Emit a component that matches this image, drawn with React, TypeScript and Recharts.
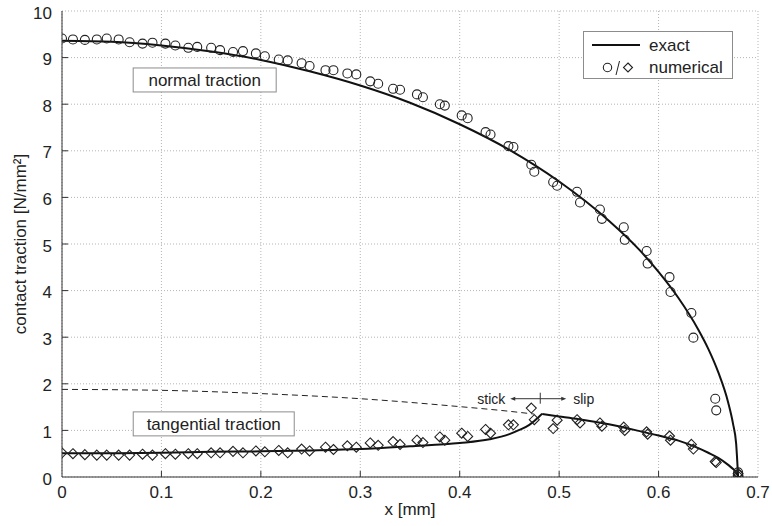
import React from "react";
import { CartesianGrid, ComposedChart, Label, Line, ReferenceDot, Scatter, XAxis, YAxis } from "recharts";

const FONT = '"Liberation Sans", Arial, Helvetica, sans-serif';
const INK = "#222";

const xTicks = [0, 0.1, 0.2, 0.3, 0.4, 0.5, 0.6, 0.7];
const yTicks = [0, 1, 2, 3, 4, 5, 6, 7, 8, 9, 10];

// numerical results (node positions shared by both tractions)
const numX = [
  0, 0.011, 0.023, 0.035, 0.045, 0.057, 0.068, 0.081, 0.091, 0.104, 0.114, 0.127, 0.136, 0.15, 0.159,
  0.172, 0.182, 0.195, 0.204, 0.218, 0.227, 0.241, 0.249, 0.265, 0.273, 0.287, 0.296, 0.31, 0.318,
  0.333, 0.34, 0.357, 0.363, 0.38, 0.385, 0.402, 0.408, 0.426, 0.431, 0.449, 0.454, 0.472, 0.475,
  0.494, 0.498, 0.518, 0.521, 0.541, 0.543, 0.565, 0.566, 0.588, 0.589, 0.611, 0.612, 0.633, 0.635,
  0.657, 0.658, 0.68, 0.68,
];
const normalNum = [
  9.41, 9.39, 9.38, 9.39, 9.41, 9.39, 9.33, 9.3, 9.32, 9.3, 9.26, 9.21, 9.23, 9.21, 9.16,
  9.12, 9.14, 9.09, 9.03, 8.96, 8.94, 8.88, 8.82, 8.73, 8.73, 8.66, 8.64, 8.49, 8.44,
  8.33, 8.31, 8.21, 8.15, 8.0, 7.97, 7.76, 7.7, 7.4, 7.35, 7.1, 7.08, 6.7, 6.55,
  6.33, 6.25, 6.12, 5.89, 5.74, 5.54, 5.36, 5.09, 4.85, 4.58, 4.29, 3.97, 3.52, 2.99,
  1.68, 1.43, 0.1, 0.05,
];
const tangentialNum = [
  0.52, 0.5, 0.48, 0.47, 0.47, 0.47, 0.47, 0.49, 0.47, 0.5, 0.49, 0.5, 0.5, 0.52, 0.52,
  0.55, 0.52, 0.56, 0.54, 0.57, 0.52, 0.6, 0.56, 0.64, 0.59, 0.67, 0.64, 0.73, 0.68,
  0.76, 0.7, 0.79, 0.74, 0.86, 0.79, 0.94, 0.87, 1.02, 0.94, 1.12, 1.12, 1.48, 1.23,
  1.04, 1.22, 1.23, 1.16, 1.16, 1.09, 1.07, 1.0, 0.97, 0.92, 0.88, 0.79, 0.7, 0.6,
  0.33, 0.31, 0.07, 0.02,
];

// exact solutions
const exactNormalX = [0, 0.05, 0.1, 0.15, 0.2, 0.25, 0.3, 0.35, 0.4, 0.45, 0.5, 0.55, 0.58, 0.6, 0.62, 0.64, 0.65, 0.66, 0.67, 0.675, 0.678, 0.68];
const exactNormal = [9.36, 9.34, 9.26, 9.13, 8.95, 8.7, 8.4, 8.03, 7.57, 7.02, 6.34, 5.5, 4.89, 4.4, 3.84, 3.16, 2.75, 2.25, 1.6, 1.13, 0.72, 0];

const stickX = [0, 0.05, 0.1, 0.15, 0.2, 0.25, 0.3, 0.35, 0.4, 0.43, 0.45, 0.46, 0.47, 0.475, 0.48, 0.483];
const stickY = [0.51, 0.51, 0.52, 0.54, 0.55, 0.57, 0.6, 0.66, 0.73, 0.81, 0.92, 1.01, 1.12, 1.2, 1.3, 1.36];

const slipX = [0.483, 0.5, 0.52, 0.55, 0.58, 0.6, 0.62, 0.64, 0.65, 0.66, 0.67, 0.675, 0.678, 0.68];
const slipY = [1.35, 1.3, 1.24, 1.13, 0.99, 0.89, 0.78, 0.62, 0.52, 0.41, 0.26, 0.17, 0.1, 0];

const limitX = [0, 0.1, 0.2, 0.3, 0.4, 0.45, 0.475];
const limitY = [1.88, 1.86, 1.79, 1.68, 1.51, 1.41, 1.35];

const pts = (xs: number[], ys: number[]) => xs.map((x, i) => ({ x, y: ys[i] }));

const normalPts = pts(numX, normalNum);
const tangPts = pts(numX, tangentialNum);
const exactNormalPts = pts(exactNormalX, exactNormal);
const stickPts = pts(stickX, stickY);
const slipPts = pts(slipX, slipY);
const limitPts = pts(limitX, limitY);

const BottomTick = (p: any) => {
  const v = p.payload.value;
  return (
    <g>
      {v > 0 && v < 0.7 && <line x1={p.x} x2={p.x} y1={p.y - 9} y2={p.y - 15} stroke="#333" />}
      <text x={p.x} y={p.y} dy="0.71em" textAnchor="middle" fontSize={17} fill={INK} fontFamily={FONT}>
        {String(v)}
      </text>
    </g>
  );
};

const LeftTick = (p: any) => {
  const v = p.payload.value;
  return (
    <g>
      {v > 0 && v < 10 && <line x1={p.x + 10} x2={p.x + 16} y1={p.y} y2={p.y} stroke="#333" />}
      <text x={p.x} y={p.y} dy="0.45em" textAnchor="end" fontSize={17} fill={INK} fontFamily={FONT}>
        {String(v)}
      </text>
    </g>
  );
};

const TopTick = (p: any) => {
  const v = p.payload.value;
  if (v <= 0 || v >= 0.7) return <g />;
  return <line x1={p.x} x2={p.x} y1={p.y + 8} y2={p.y + 14} stroke="#333" />;
};

const RightTick = (p: any) => {
  const v = p.payload.value;
  if (v <= 0 || v >= 10) return <g />;
  return <line x1={p.x - 8} x2={p.x - 14} y1={p.y} y2={p.y} stroke="#333" />;
};

const circleShape = (p: any) => <circle cx={p.cx} cy={p.cy} r={4.5} fill="none" stroke={INK} strokeWidth={1.1} />;
const diamondShape = (p: any) => (
  <polygon
    points={`${p.cx},${p.cy - 5} ${p.cx + 5},${p.cy} ${p.cx},${p.cy + 5} ${p.cx - 5},${p.cy}`}
    fill="none"
    stroke={INK}
    strokeWidth={1.1}
  />
);

const textBox = (label: string, w: number) => (p: any) => (
  <g>
    <rect x={p.cx - w / 2} y={p.cy - 12} width={w} height={24} fill="#fff" stroke="#8c8c8c" />
    <text x={p.cx} y={p.cy} dy="0.36em" textAnchor="middle" fontSize={17} fill={INK} fontFamily={FONT}>
      {label}
    </text>
  </g>
);

const stickSlip = (p: any) => {
  const { cx, cy } = p;
  return (
    <g stroke="#333" fill="#333">
      <text x={cx - 35} y={cy} dy="0.35em" textAnchor="end" fontSize={14} stroke="none" fill={INK} fontFamily={FONT}>
        stick
      </text>
      <line x1={cx - 27} x2={cx} y1={cy} y2={cy} />
      <polygon points={`${cx - 30},${cy} ${cx - 25},${cy - 2} ${cx - 25},${cy + 2}`} stroke="none" />
      <line x1={cx} x2={cx} y1={cy - 6} y2={cy + 5} />
      <line x1={cx} x2={cx + 23} y1={cy} y2={cy} />
      <polygon points={`${cx + 26},${cy} ${cx + 21},${cy - 2} ${cx + 21},${cy + 2}`} stroke="none" />
      <text x={cx + 33} y={cy} dy="0.35em" textAnchor="start" fontSize={14} stroke="none" fill={INK} fontFamily={FONT}>
        slip
      </text>
    </g>
  );
};

const YLabel = (p: any) => {
  const vb = p.viewBox;
  const x = vb.x + 20;
  const y = vb.y + vb.height / 2;
  return (
    <text x={x} y={y} dy="0.35em" textAnchor="middle" transform={`rotate(-90, ${x}, ${y})`} fontSize={17} fill={INK} fontFamily={FONT}>
      contact traction [N/mm²]
    </text>
  );
};

const XLabel = (p: any) => {
  const vb = p.viewBox;
  return (
    <text x={vb.x + vb.width / 2} y={vb.y + 38} textAnchor="middle" fontSize={17} fill={INK} fontFamily={FONT}>
      x [mm]
    </text>
  );
};

function LegendBox() {
  return (
    <div
      style={{
        position: "absolute",
        left: 583,
        top: 31,
        width: 150,
        height: 48,
        boxSizing: "border-box",
        border: "1px solid #8c8c8c",
        background: "#fff",
      }}
    >
      <svg width={148} height={46} style={{ position: "absolute", left: 0, top: 0 }}>
        <line x1={8} x2={56} y1={13} y2={13} stroke="#111" strokeWidth={2} />
        <text x={65} y={19} fontSize={17} fill={INK} fontFamily={FONT}>exact</text>
        <circle cx={23.5} cy={35.5} r={4.2} fill="none" stroke={INK} strokeWidth={1.1} />
        <line x1={32} x2={35.5} y1={43} y2={29} stroke={INK} strokeWidth={1} />
        <polygon points="44,31 48.5,35.5 44,40 39.5,35.5" fill="none" stroke={INK} strokeWidth={1.1} />
        <text x={65} y={41} fontSize={17} fill={INK} fontFamily={FONT}>numerical</text>
      </svg>
    </div>
  );
}

export default function App() {
  return (
    <div style={{ position: "absolute", left: 0, top: 0, width: 772, height: 526, background: "#fff" }}>
      <ComposedChart width={772} height={526} margin={{ top: 11, right: 14, bottom: 0, left: 0 }}>
        <CartesianGrid stroke="#b5b5b5" strokeDasharray="1 2" />
        <XAxis
          dataKey="x"
          type="number"
          domain={[0, 0.7]}
          ticks={xTicks}
          height={49}
          tickSize={6}
          tickMargin={3}
          tickLine={false}
          tick={BottomTick}
          axisLine={{ stroke: "#333" }}
          allowDataOverflow
        >
          <Label content={XLabel} />
        </XAxis>
        <XAxis
          xAxisId="top"
          orientation="top"
          dataKey="x"
          type="number"
          domain={[0, 0.7]}
          ticks={xTicks}
          height={0}
          tickSize={6}
          tickMargin={2}
          tickLine={false}
          tick={TopTick}
          axisLine={{ stroke: "#333" }}
          allowDataOverflow
        />
        <YAxis
          dataKey="y"
          type="number"
          domain={[0, 10]}
          ticks={yTicks}
          width={62}
          tickSize={6}
          tickMargin={4}
          tickLine={false}
          tick={LeftTick}
          axisLine={{ stroke: "#333" }}
          allowDataOverflow
        >
          <Label content={YLabel} />
        </YAxis>
        <YAxis
          yAxisId="right"
          orientation="right"
          dataKey="y"
          type="number"
          domain={[0, 10]}
          ticks={yTicks}
          width={0}
          tickSize={6}
          tickMargin={2}
          tickLine={false}
          tick={RightTick}
          axisLine={{ stroke: "#333" }}
          allowDataOverflow
        />
        <Line data={limitPts} dataKey="y" type="monotone" stroke="#222" strokeWidth={1} strokeDasharray="6 4" dot={false} isAnimationActive={false} />
        <Line data={exactNormalPts} dataKey="y" type="monotone" stroke="#111" strokeWidth={2} dot={false} isAnimationActive={false} />
        <Line data={stickPts} dataKey="y" type="monotone" stroke="#111" strokeWidth={2} dot={false} isAnimationActive={false} />
        <Line data={slipPts} dataKey="y" type="monotone" stroke="#111" strokeWidth={2} dot={false} isAnimationActive={false} />
        <Scatter data={normalPts} shape={circleShape} isAnimationActive={false} />
        <Scatter data={tangPts} shape={diamondShape} isAnimationActive={false} />
        <ReferenceDot x={0.1435} y={8.52} shape={textBox("normal traction", 143)} />
        <ReferenceDot x={0.1526} y={1.14} shape={textBox("tangential traction", 161)} />
        <ReferenceDot x={0.481} y={1.68} shape={stickSlip} />
      </ComposedChart>
      <LegendBox />
    </div>
  );
}
